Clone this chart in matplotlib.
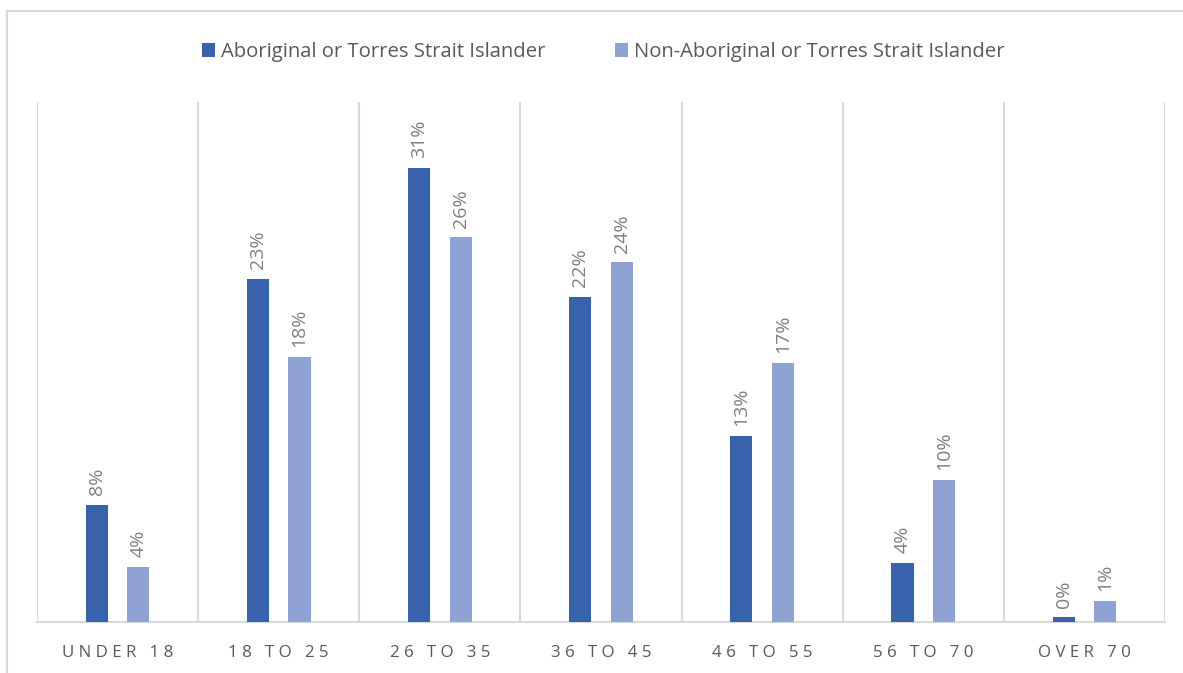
import matplotlib
matplotlib.use("Agg")
import matplotlib.pyplot as plt
import numpy as np
from matplotlib.patches import Rectangle

plt.rcParams['font.family'] = ['Open Sans', 'DejaVu Sans']

# data (percent of each group)
categories = ['UNDER 18', '18 TO 25', '26 TO 35', '36 TO 45', '46 TO 55', '56 TO 70', 'OVER 70']
aboriginal = [7.86, 23.08, 30.55, 21.87, 12.51, 3.97, 0.30]
non_aboriginal = [3.70, 17.85, 25.89, 24.20, 17.45, 9.54, 1.39]
series_names = ['Aboriginal or Torres Strait Islander', 'Non-Aboriginal or Torres Strait Islander']

dark = '#3862ac'
light = '#8fa2d4'
grid_c = '#d9d9d9'

fig = plt.figure(figsize=(11.83, 6.73), dpi=100)
# outer chart border (only left and top are visible)
fig.patches.append(Rectangle((7 / 1183, -0.1), 1.2, 1 - 11 / 673 + 0.1, transform=fig.transFigure,
                             fill=False, edgecolor=grid_c, linewidth=1.5))

ax = fig.add_axes([37 / 1183, 1 - 621.7 / 673, (1165 - 37) / 1183, (621.7 - 102) / 673])
x = np.arange(len(categories))
w = 0.137
off = 0.129
b1 = ax.bar(x - off, aboriginal, w, color=dark, label=series_names[0], zorder=3)
b2 = ax.bar(x + off, non_aboriginal, w, color=light, label=series_names[1], zorder=3)

for bars, vals in [(b1, aboriginal), (b2, non_aboriginal)]:
    for b, v in zip(bars, vals):
        ax.annotate('%d%%' % round(v), (b.get_x() + b.get_width() / 2, b.get_height()),
                    xytext=(0, 7), textcoords='offset points', rotation=90,
                    ha='center', va='bottom', fontsize=14, color='#7f7f7f')

# category separators
for k in range(len(categories) + 1):
    ax.axvline(k - 0.5, color=grid_c, linewidth=1.5, zorder=1)

ax.set_xlim(-0.5, len(categories) - 0.5)
ax.set_ylim(0, 35)
ax.set_yticks([])
for s in ['top', 'left', 'right']:
    ax.spines[s].set_visible(False)
ax.spines['bottom'].set_color(grid_c)
ax.spines['bottom'].set_linewidth(1.5)
ax.set_xticks(x)
ax.set_xticklabels([' '.join(c) for c in categories], fontsize=12.2, color='#595959')
ax.tick_params(axis='x', length=0, pad=17)

fig.legend(handles=[b1, b2], loc='center', bbox_to_anchor=(0.51, 1 - 52 / 673), ncol=2,
           frameon=False, fontsize=14.6, handlelength=0.65, handleheight=0.65, handletextpad=0.3,
           columnspacing=3.4, labelcolor='#595959')

fig.savefig('out.png', dpi=100)
